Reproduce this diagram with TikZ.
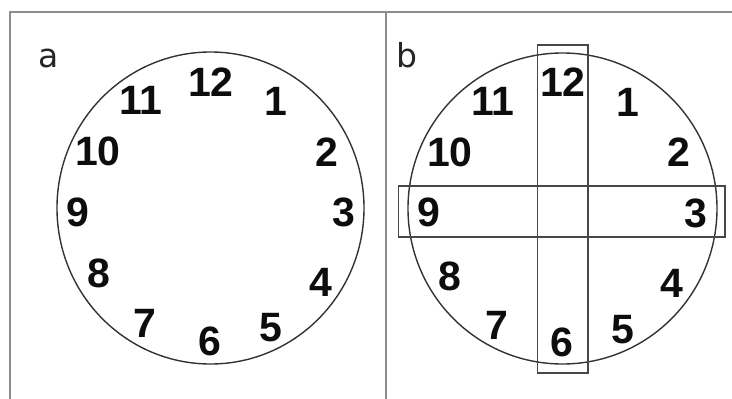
\documentclass[tikz,border=0pt]{standalone}
\usepackage{fontspec}
\setmainfont{Liberation Sans}
\newfontfamily\labfont{DejaVu Sans}
\begin{document}
\begin{tikzpicture}[x=1pt,y=-1pt,
  num/.style={inner sep=0pt, font=\fontsize{41}{41}\selectfont\bfseries, text=black!95},
  panlab/.style={inner sep=0pt, anchor=base, font=\labfont\fontsize{33}{33}\selectfont, text=black!85},
  frame/.style={draw=black!45, line width=1.4pt},
  dial/.style={draw=black!80, line width=1.4pt},
  band/.style={draw=black!72, line width=1.8pt}]
\useasboundingbox (0,0) rectangle (732,399);
% frame
\draw[frame] (10,399) -- (10,12) -- (732,12);
\draw[frame] (386,12) -- (386,399);
% panel labels
\node[panlab] (la) at (49,67) {a};
\node[panlab] (lb) at (407,67) {b};
% panel a
\draw[dial] (210.5,208) ellipse [x radius=153.5, y radius=156];
\node[num] (a12) at (211,82) {12};
\node[num] (a11) at (141,100) {11};
\node[num] (a1) at (276,101) {1};
\node[num] (a10) at (98,151) {10};
\node[num] (a2) at (327,152) {2};
\node[num] (a9) at (78,212.5) {9};
\node[num] (a3) at (344,212) {3};
\node[num] (a8) at (99,273) {8};
\node[num] (a4) at (321,282) {4};
\node[num] (a7) at (145,323) {7};
\node[num] (a6) at (210,341) {6};
\node[num] (a5) at (271,328) {5};
% panel b
\draw[dial] (562.5,208.5) ellipse [x radius=154.5, y radius=155.5];
\draw[band] (537.5,45) rectangle (588,373);
\draw[band] (398.5,186) rectangle (725,237);
\node[num] (b12) at (563,82) {12};
\node[num] (b11) at (493,101) {11};
\node[num] (b1) at (628,102) {1};
\node[num] (b10) at (450,152) {10};
\node[num] (b2) at (679,152) {2};
\node[num] (b9) at (429,212.5) {9};
\node[num] (b3) at (696,213) {3};
\node[num] (b8) at (450,276) {8};
\node[num] (b4) at (672,283) {4};
\node[num] (b7) at (497,325) {7};
\node[num] (b6) at (562,342) {6};
\node[num] (b5) at (623,330) {5};
\end{tikzpicture}
\end{document}
